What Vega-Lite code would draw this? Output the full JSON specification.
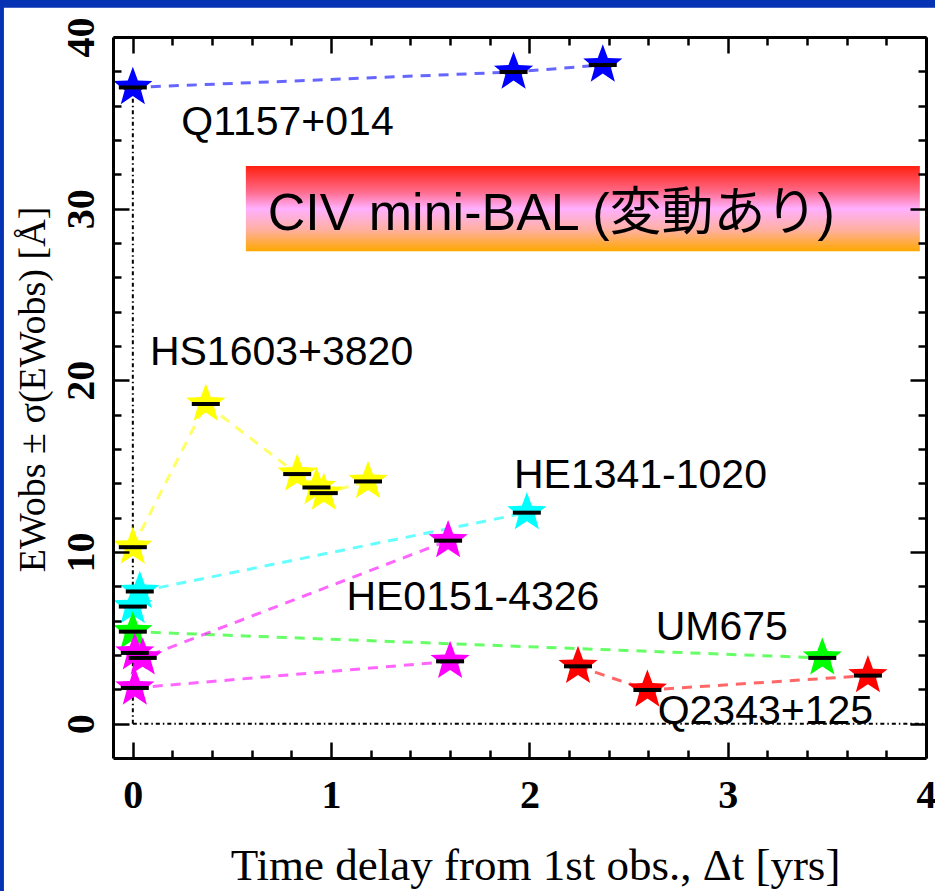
{
  "$schema": "https://vega.github.io/schema/vega-lite/v6.json",
  "width": 813,
  "height": 721,
  "autosize": {"type": "none"},
  "padding": {"left": 113, "top": 37, "right": 9, "bottom": 133},
  "background": "#0632b4",
  "config": {
    "view": {"stroke": null},
    "axis": {"zindex": 1, "grid": false, "domainColor": "black", "tickColor": "black", "domainWidth": 3, "tickWidth": 2.5, "labelColor": "black", "titleColor": "black"}
  },
  "data": {"values": [
      {"obj": "Q1157+014", "series": "Q1157", "t": 0, "ew": 37.06},
      {"obj": "Q1157+014", "series": "Q1157", "t": 1.92, "ew": 37.96},
      {"obj": "Q1157+014", "series": "Q1157", "t": 2.37, "ew": 38.37},
      {"obj": "HS1603+3820", "series": "HS1603", "t": 0, "ew": 10.28},
      {"obj": "HS1603+3820", "series": "HS1603", "t": 0.368, "ew": 18.62},
      {"obj": "HS1603+3820", "series": "HS1603", "t": 0.829, "ew": 14.54},
      {"obj": "HS1603+3820", "series": "HS1603", "t": 0.926, "ew": 13.76},
      {"obj": "HS1603+3820", "series": "HS1603", "t": 0.963, "ew": 13.43},
      {"obj": "HS1603+3820", "series": "HS1603", "t": 1.186, "ew": 14.11},
      {"obj": "HE1341-1020", "series": "HE1341", "t": 0, "ew": 6.82},
      {"obj": "HE1341-1020", "series": "HE1341", "t": 0.035, "ew": 7.7},
      {"obj": "HE1341-1020", "series": "HE1341", "t": 1.987, "ew": 12.29},
      {"obj": "UM675", "series": "UM675", "t": 0, "ew": 5.36},
      {"obj": "UM675", "series": "UM675", "t": 3.477, "ew": 3.83},
      {"obj": "HE0151-4326", "series": "HE0151a", "t": 0.01, "ew": 4.12},
      {"obj": "HE0151-4326", "series": "HE0151a", "t": 0.05, "ew": 3.83},
      {"obj": "HE0151-4326", "series": "HE0151a", "t": 1.59, "ew": 10.66},
      {"obj": "HE0151-4326", "series": "HE0151b", "t": 0.01, "ew": 2.08},
      {"obj": "HE0151-4326", "series": "HE0151b", "t": 1.6, "ew": 3.63},
      {"obj": "Q2343+125", "series": "Q2343", "t": 2.245, "ew": 3.34},
      {"obj": "Q2343+125", "series": "Q2343", "t": 2.595, "ew": 1.96},
      {"obj": "Q2343+125", "series": "Q2343", "t": 3.707, "ew": 2.8}
  ]},
  "layer": [
    {
      "data": {"values": [{"k": 1}]},
      "mark": {"type": "rect", "fill": "white", "clip": false},
      "encoding": {
        "x": {"datum": -0.65, "type": "quantitative", "scale": {"domain": [-0.1, 4], "zero": false, "nice": false}, "axis": null},
        "x2": {"datum": 5},
        "y": {"datum": 41.7, "type": "quantitative", "scale": {"domain": [-2, 40], "zero": false, "nice": false}, "axis": null},
        "y2": {"datum": -15}
      }
    },
    {
      "data": {"values": [{"k": 1}]},
      "mark": {"type": "rule", "color": "black", "strokeWidth": 2, "strokeDash": [4, 3, 1.5, 3]},
      "encoding": {
        "x": {"datum": 0, "type": "quantitative", "axis": null},
        "x2": {"datum": 4},
        "y": {"datum": 0, "type": "quantitative", "axis": null}
      }
    },
    {
      "data": {"values": [{"k": 1}]},
      "mark": {"type": "rule", "color": "black", "strokeWidth": 2, "strokeDash": [4, 3, 1.5, 3]},
      "encoding": {
        "x": {"datum": 0, "type": "quantitative", "axis": null},
        "y": {"datum": 0, "type": "quantitative", "axis": null},
        "y2": {"datum": 37}
      }
    },
    {
      "mark": {"type": "line", "strokeWidth": 3, "strokeDash": [10, 8], "opacity": 0.6},
      "encoding": {
        "x": {"field": "t", "type": "quantitative", "scale": {"domain": [-0.1, 4], "zero": false, "nice": false},
          "axis": {"orient": "bottom", "zindex": 1, "values": [0, 1, 2, 3, 4], "ticks": false, "tickSize": 0, "domain": false, "format": "d",
            "labelFont": "Liberation Serif", "labelFontWeight": "bold", "labelFontSize": 40, "labelPadding": 17, "labelFlush": false, "labelOverlap": false, "labelBound": false,
            "title": "Time delay from 1st obs., Δt [yrs]", "titleFont": "Liberation Serif", "titleFontSize": 45, "titleFontWeight": "normal",
            "titleX": 422, "titleY": 121, "titleBaseline": "alphabetic", "titleAlign": "center"}},
        "y": {"field": "ew", "type": "quantitative", "scale": {"domain": [-2, 40], "zero": false, "nice": false},
          "axis": {"orient": "left", "zindex": 1, "values": [0, 10, 20, 30, 40], "ticks": false, "tickSize": 0, "domain": false, "format": "d",
            "labelFont": "Liberation Serif", "labelFontWeight": "bold", "labelFontSize": 40, "labelAngle": -90, "labelAlign": "center", "labelBaseline": "alphabetic", "labelPadding": 20, "labelFlush": false, "labelOverlap": false, "labelBound": false,
            "title": "EWobs ± σ(EWobs)  [Å]", "titleFont": "Liberation Serif", "titleFontSize": 38, "titleFontWeight": "normal",
            "titleX": -80, "titleY": 352, "titleAngle": 270, "titleBaseline": "middle", "titleAlign": "center"}},
        "color": {"field": "obj", "type": "nominal", "legend": null,
          "scale": {"domain": ["Q1157+014", "HS1603+3820", "HE1341-1020", "UM675", "HE0151-4326", "Q2343+125"],
                    "range": ["#0000ff", "#ffff00", "#00ffff", "#00ff00", "#ff00ff", "#ff0000"]}},
        "detail": {"field": "series", "type": "nominal"}
      }
    },
    {
      "mark": {"type": "point", "shape": "M0,-1L0.245,-0.337L0.951,-0.309L0.397,0.129L0.588,0.809L0,0.417L-0.588,0.809L-0.397,0.129L-0.951,-0.309L-0.245,-0.337Z", "filled": true, "size": 1700, "opacity": 1, "strokeWidth": 0},
      "encoding": {
        "x": {"field": "t", "type": "quantitative",
          "axis": {"orient": "bottom", "zindex": 1, "values": [0, 1, 2, 3, 4], "labels": false, "title": null, "tickSize": -16, "domain": true}},
        "y": {"field": "ew", "type": "quantitative",
          "axis": {"orient": "left", "zindex": 1, "values": [0, 10, 20, 30, 40], "labels": false, "title": null, "tickSize": -16, "domain": true}},
        "color": {"field": "obj", "type": "nominal", "legend": null}
      }
    },
    {
      "mark": {"type": "tick", "orient": "horizontal", "color": "black", "size": 28, "thickness": 4, "opacity": 1},
      "encoding": {
        "x": {"field": "t", "type": "quantitative",
          "axis": {"orient": "bottom", "zindex": 1, "values": [0.2, 0.4, 0.6, 0.8, 1.2, 1.4, 1.6, 1.8, 2.2, 2.4, 2.6, 2.8, 3.2, 3.4, 3.6, 3.8], "labels": false, "title": null, "tickSize": -8, "domain": false}},
        "y": {"field": "ew", "type": "quantitative",
          "axis": {"orient": "left", "zindex": 1, "values": [2, 4, 6, 8, 12, 14, 16, 18, 22, 24, 26, 28, 32, 34, 36, 38], "labels": false, "title": null, "tickSize": -8, "domain": false}}
      }
    },
    {
      "data": {"values": [
        {"label": "Q1157+014", "t": 0.78, "ew": 35.0},
        {"label": "HS1603+3820", "t": 0.75, "ew": 21.6},
        {"label": "HE1341-1020", "t": 2.56, "ew": 14.45},
        {"label": "HE0151-4326", "t": 1.715, "ew": 7.3},
        {"label": "UM675", "t": 2.97, "ew": 5.55},
        {"label": "Q2343+125", "t": 3.19, "ew": 0.7}
      ]},
      "mark": {"type": "text", "font": "Liberation Sans", "fontSize": 41, "color": "black", "align": "center", "baseline": "middle"},
      "encoding": {
        "x": {"field": "t", "type": "quantitative",
          "axis": {"orient": "top", "zindex": 1, "values": [0, 1, 2, 3, 4], "labels": false, "title": null, "tickSize": -16, "domain": true}},
        "y": {"field": "ew", "type": "quantitative",
          "axis": {"orient": "right", "zindex": 1, "values": [0, 10, 20, 30, 40], "labels": false, "title": null, "tickSize": -16, "domain": true}},
        "text": {"field": "label"}
      }
    },
    {
      "data": {"values": [{"k": 1}]},
      "mark": {"type": "rect", "fill": {"gradient": "linear", "x1": 0, "y1": 0, "x2": 0, "y2": 1,
        "stops": [
          {"offset": 0, "color": "#ff2010"},
          {"offset": 0.3, "color": "#ff6a8a"},
          {"offset": 0.5, "color": "#ffb0ff"},
          {"offset": 0.75, "color": "#ffb0a0"},
          {"offset": 1, "color": "#ffa800"}
        ]}},
      "encoding": {
        "x": {"datum": 0.57, "type": "quantitative", "axis": null},
        "x2": {"datum": 3.969},
        "y": {"datum": 32.48, "type": "quantitative", "axis": null},
        "y2": {"datum": 27.52}
      }
    },
    {
      "data": {"values": [{"label": "CIV mini-BAL (変動あり)", "t": 0.68, "ew": 28.75}]},
      "mark": {"type": "text", "font": "Liberation Sans, Noto Sans CJK JP", "fontSize": 52, "color": "black", "align": "left", "baseline": "alphabetic"},
      "encoding": {
        "x": {"field": "t", "type": "quantitative",
          "axis": {"orient": "top", "zindex": 1, "values": [0.2, 0.4, 0.6, 0.8, 1.2, 1.4, 1.6, 1.8, 2.2, 2.4, 2.6, 2.8, 3.2, 3.4, 3.6, 3.8], "labels": false, "title": null, "tickSize": -8, "domain": false}},
        "y": {"field": "ew", "type": "quantitative",
          "axis": {"orient": "right", "zindex": 1, "values": [2, 4, 6, 8, 12, 14, 16, 18, 22, 24, 26, 28, 32, 34, 36, 38], "labels": false, "title": null, "tickSize": -8, "domain": false}},
        "text": {"field": "label"}
      }
    }
  ],
  "resolve": {"axis": {"x": "independent", "y": "independent"}}
}
